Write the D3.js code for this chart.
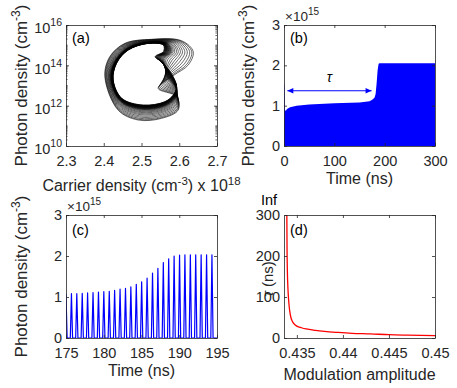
<!DOCTYPE html>
<html>
<head>
<meta charset="utf-8">
<script src="https://cdn.jsdelivr.net/npm/d3@7"></script>
<style>
  body { margin: 0; background: #fff; }
  svg { display: block; font-family: "Liberation Sans", Arial, sans-serif; }
</style>
</head>
<body>
<svg id="chart" width="457" height="388"></svg>
<script>
// (a) phase portrait: dense inner loop and widest outer loop, [carrier (1e18 cm^-3), log10 photon]
const loopInner = [
  [2.518, 15.09], [2.558, 15.00], [2.558, 14.68], [2.536, 14.43], [2.553, 14.18],
  [2.579, 13.60], [2.593, 12.94], [2.585, 12.55], [2.562, 12.20], [2.505, 12.03],
  [2.448, 12.36], [2.425, 13.27], [2.434, 14.10], [2.465, 14.76]
];
const loopOuter = [
  [2.527, 15.29], [2.606, 15.22], [2.637, 14.68], [2.624, 14.02], [2.585, 13.50],
  [2.544, 12.86], [2.593, 12.45], [2.597, 11.78], [2.553, 11.37], [2.491, 11.29],
  [2.438, 11.78], [2.403, 13.44], [2.416, 14.43], [2.456, 15.09]
];
// how far each drawn loop sits between the inner and the outer one
const loopMix = [0, 0.012, 0.024, 0.036, 0.048, 0.06, 0.072, 0.084, 0.096, 0.108,
  0.12, 0.135, 0.15, 0.165, 0.18, 0.2, 0.22, 0.24, 0.26, 0.29, 0.33, 0.38,
  0.44, 0.5, 0.57, 0.64, 0.72, 0.8, 0.88, 0.95, 1];

// (b) envelope of the photon density (x 1e15) over 0-300 ns
const bTime   = [0, 0.3, 1.2, 2.0, 3.5, 6, 12, 25, 50, 100, 150, 170, 176, 180, 182, 184, 186, 188, 190, 300];
const bPhoton = [0, 1.55, 1.5, 0.9, 0.87, 0.92, 0.96, 1.0, 1.03, 1.06, 1.08, 1.11, 1.15, 1.2, 1.29, 1.55, 1.88, 2.04, 2.05, 2.05];
const tauSpan = [6.6, 174];
const tauLevel = 1.37;

// (c) pulse peaks (x 1e15) between 175 and 195 ns
const cPulseTime = [175.00, 175.72, 176.43, 177.15, 177.86, 178.58, 179.30, 180.01, 180.73, 181.44,
  182.16, 182.88, 183.59, 184.31, 185.02, 185.74, 186.46, 187.17, 187.89, 188.60,
  189.32, 190.04, 190.75, 191.47, 192.18, 192.90, 193.62, 194.33];
const cPulsePeak = [1.07, 1.08, 1.08, 1.09, 1.10, 1.11, 1.12, 1.13, 1.14, 1.16,
  1.19, 1.21, 1.25, 1.31, 1.37, 1.46, 1.58, 1.70, 1.84, 1.93,
  2.00, 2.02, 2.03, 2.03, 2.03, 2.03, 2.03, 2.03];

// (d) delay tau (ns) against modulation amplitude
const dAmplitude = [0.43390, 0.43393, 0.43397, 0.43402, 0.43408, 0.43415, 0.43424, 0.43435, 0.43450, 0.43467,
  0.43500, 0.43550, 0.43600, 0.43700, 0.43800, 0.43950, 0.44100, 0.44300, 0.44500, 0.44700, 0.45000];
const dTau = [330, 220, 160, 125, 100, 80, 63, 50, 41, 35, 29, 25, 22, 18.5, 16, 13.5, 11.5, 10, 8, 7, 6];

// tick values
const aTicksX = [2.3, 2.4, 2.5, 2.6, 2.7];
const aTicksY = [1e10, 1e12, 1e14, 1e16];
const bTicksX = [0, 100, 200, 300];
const photonTicks = [0, 1, 2, 3];
const cTicksX = [175, 180, 185, 190, 195];
const dTicksX = [0.435, 0.44, 0.445, 0.45];
const dTicksY = [0, 100, 200, 300];

const ink = '#262626';
const blue = '#0000ff';
const tickFont = 14.5;
const xLabelFont = 16;
const yLabelFont = 17;
const svg = d3.select('#chart');

const boxA = { x0: 66, x1: 217, y0: 25, y1: 146 };
const boxB = { x0: 284, x1: 435, y0: 25, y1: 146 };
const boxC = { x0: 66, x1: 217, y0: 215, y1: 338 };
const boxD = { x0: 284, x1: 435, y0: 215, y1: 338 };

function clipFor(id, box) {
    svg.append('clipPath').attr('id', id)
        .append('rect')
        .attr('x', box.x0).attr('y', box.y0)
        .attr('width', box.x1 - box.x0).attr('height', box.y1 - box.y0);
    return `url(#${id})`;
}

function frame(box, x, y, xt, yt, xfmt, yfmt) {
    const g = svg.append('g');
    const tidy = a => a.attr('font-family', null).attr('font-size', tickFont);
    g.append('g').attr('transform', `translate(0,${box.y1})`)
        .call(d3.axisBottom(x).tickValues(xt).tickSizeInner(-3).tickSizeOuter(0).tickPadding(9.5).tickFormat(xfmt))
        .call(tidy);
    g.append('g').attr('transform', `translate(0,${box.y0})`)
        .call(d3.axisTop(x).tickValues(xt).tickSizeInner(-3).tickSizeOuter(0).tickFormat(''));
    g.append('g').attr('class', 'yax').attr('transform', `translate(${box.x0},0)`)
        .call(d3.axisLeft(y).tickValues(yt).tickSizeInner(-3).tickSizeOuter(0).tickPadding(4).tickFormat(yfmt))
        .call(tidy);
    g.append('g').attr('transform', `translate(${box.x1},0)`)
        .call(d3.axisRight(y).tickValues(yt).tickSizeInner(-3).tickSizeOuter(0).tickFormat(''));
    g.selectAll('.domain, .tick line').attr('stroke', ink).attr('stroke-width', 0.8);
    g.selectAll('.tick text').attr('fill', ink);
    return g;
}

function label(x, y, size, rotate) {
    const t = svg.append('text')
        .attr('text-anchor', 'middle')
        .attr('fill', ink)
        .attr('font-size', size);
    if (rotate) t.attr('transform', `translate(${x},${y}) rotate(-90)`);
    else t.attr('x', x).attr('y', y);
    return t;
}

function photonLabel(x, y) {
    const t = label(x, y, yLabelFont, true);
    t.append('tspan').text('Photon density (cm');
    t.append('tspan').attr('font-size', 12).attr('dy', -7).text('-3');
    t.append('tspan').attr('dy', 7).text(')');
}

function scaleNote(x, y) {
    const t = svg.append('text').attr('x', x).attr('y', y).attr('fill', ink).attr('font-size', 13.5);
    t.append('tspan').text('\u00d710');
    t.append('tspan').attr('font-size', 10).attr('dy', -6).text('15');
}

function panelTag(x, y, s) {
    svg.append('text').attr('x', x).attr('y', y).attr('fill', '#000').attr('font-size', 14.5).text(s);
}

// ---------- (a)
const xa = d3.scaleLinear([2.3, 2.7], [boxA.x0, boxA.x1]);
const ya = d3.scaleLog([1e10, 1e16], [boxA.y1, boxA.y0]);
const loopLine = d3.line()
    .x(p => xa(p[0]))
    .y(p => ya(10 ** p[1]))
    .curve(d3.curveCatmullRomClosed.alpha(0.5));

svg.append('g')
    .attr('clip-path', clipFor('clipA', boxA))
    .selectAll('path')
    .data(loopMix)
    .join('path')
    .attr('d', w => loopLine(loopInner.map((p, i) => [
        p[0] + w * (loopOuter[i][0] - p[0]),
        p[1] + w * (loopOuter[i][1] - p[1])
    ])))
    .attr('fill', 'none')
    .attr('stroke', '#000')
    .attr('stroke-width', 0.6);

const gA = frame(boxA, xa, ya, aTicksX, aTicksY, d3.format('.1f'), () => '');
gA.selectAll('.yax .tick text').attr('dy', '0.55em').each(function(d) {
    const t = d3.select(this);
    t.append('tspan').text('10');
    t.append('tspan').attr('font-size', 10.5).attr('dy', -7).text(Math.round(Math.log10(d)));
});
// minor log ticks on both sides
const minorY = ya.ticks().filter(v => !aTicksY.includes(v));
gA.selectAll('.minor')
    .data(minorY.flatMap(v => [[boxA.x0, v, 1], [boxA.x1, v, -1]]))
    .join('line')
    .attr('x1', d => d[0]).attr('x2', d => d[0] + d[2] * 1.6)
    .attr('y1', d => ya(d[1])).attr('y2', d => ya(d[1]))
    .attr('stroke', ink).attr('stroke-width', 0.7);

photonLabel(27, (boxA.y0 + boxA.y1) / 2);
{
    const t = label((boxA.x0 + boxA.x1) / 2, 191, xLabelFont, false);
    t.append('tspan').text('Carrier density (cm');
    t.append('tspan').attr('font-size', 11.5).attr('dy', -6).text('-3');
    t.append('tspan').attr('dy', 6).text(') x 10');
    t.append('tspan').attr('font-size', 11.5).attr('dy', -6).text('18');
}
panelTag(72, 43, '(a)');

// ---------- (b)
const xb = d3.scaleLinear([0, 300], [boxB.x0, boxB.x1]);
const yb = d3.scaleLinear([0, 3], [boxB.y1, boxB.y0]);
svg.append('path')
    .attr('clip-path', clipFor('clipB', boxB))
    .attr('d', d3.area()
        .x((d, i) => xb(bTime[i]))
        .y0(yb(0))
        .y1((d, i) => yb(bPhoton[i]))(bTime))
    .attr('fill', blue);

// tau arrow
{
    const ay = yb(tauLevel);
    const ax0 = xb(tauSpan[0]), ax1 = xb(tauSpan[1]);
    svg.append('line')
        .attr('x1', ax0).attr('x2', ax1).attr('y1', ay).attr('y2', ay)
        .attr('stroke', blue).attr('stroke-width', 1.2);
    svg.append('path')
        .attr('d', `M${ax0},${ay}l6,-2.8v5.6z M${ax1},${ay}l-6,-2.8v5.6z`)
        .attr('fill', blue);
    svg.append('text')
        .attr('x', xb(d3.mean(tauSpan))).attr('y', yb(1.58))
        .attr('text-anchor', 'middle').attr('font-size', 14).attr('font-style', 'italic')
        .attr('fill', '#000').text('\u03c4');
}

frame(boxB, xb, yb, bTicksX, photonTicks, d3.format('d'), d3.format('d'));
scaleNote(boxB.x0 + 1, 21);
photonLabel(254, (boxB.y0 + boxB.y1) / 2);
label((boxB.x0 + boxB.x1) / 2, 184, xLabelFont, false).text('Time (ns)');
panelTag(290, 43, '(b)');

// ---------- (c)
const xc = d3.scaleLinear([175, 195], [boxC.x0, boxC.x1]);
const yc = d3.scaleLinear([0, 3], [boxC.y1, boxC.y0]);
const pulsePts = [[174, 0]].concat(
    cPulseTime.flatMap((t, i) => [[t - 0.15, 0], [t, cPulsePeak[i]], [t + 0.15, 0]]),
    [[196, 0]]
);
svg.append('path')
    .attr('clip-path', clipFor('clipC', boxC))
    .attr('d', d3.line().x(d => xc(d[0])).y(d => yc(d[1]))(pulsePts))
    .attr('fill', 'none')
    .attr('stroke', blue)
    .attr('stroke-width', 1.2)
    .attr('stroke-linejoin', 'round');

frame(boxC, xc, yc, cTicksX, photonTicks, d3.format('d'), d3.format('d'));
scaleNote(boxC.x0 + 1, 211);
photonLabel(27, (boxC.y0 + boxC.y1) / 2);
label((boxC.x0 + boxC.x1) / 2, 376, xLabelFont, false).text('Time (ns)');
panelTag(72, 235, '(c)');

// ---------- (d)
const xd = d3.scaleLinear([0.4336, 0.45], [boxD.x0, boxD.x1]);
const yd = d3.scaleLinear([0, 300], [boxD.y1, boxD.y0]);
svg.append('path')
    .attr('clip-path', clipFor('clipD', boxD))
    .attr('d', d3.line()
        .x((d, i) => xd(dAmplitude[i]))
        .y((d, i) => yd(dTau[i]))
        .curve(d3.curveMonotoneX)(dAmplitude))
    .attr('fill', 'none')
    .attr('stroke', '#ff0000')
    .attr('stroke-width', 1.3);

frame(boxD, xd, yd, dTicksX, dTicksY, d => String(d), d3.format('d'));
svg.append('text')
    .attr('x', 269).attr('y', yd(300) - 10)
    .attr('text-anchor', 'middle').attr('font-size', tickFont).attr('fill', '#000')
    .text('Inf');
{
    const t = label(273, 279, 15, true);
    t.append('tspan').attr('font-style', 'italic').text('\u03c4');
    t.append('tspan').text(' (ns)');
}
label((boxD.x0 + boxD.x1) / 2, 380, xLabelFont, false).text('Modulation amplitude');
panelTag(290, 235, '(d)');
</script>
</body>
</html>
